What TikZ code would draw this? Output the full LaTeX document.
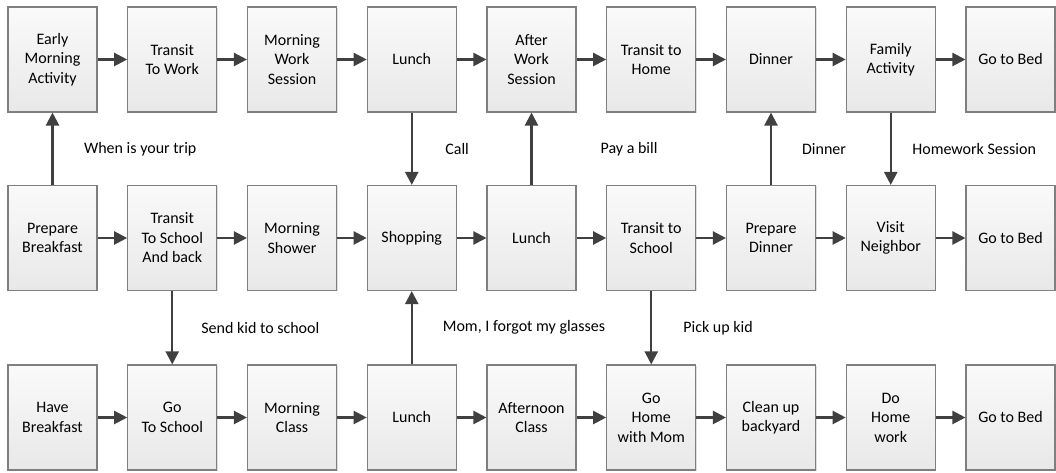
\documentclass[tikz,border=0pt]{standalone}
\usepackage{fontspec}
\setmainfont{Carlito}
\usetikzlibrary{arrows.meta,shadows}
\definecolor{arrowGray}{HTML}{404040}
\definecolor{boxBorder}{HTML}{7F7F7F}

\begin{document}
\begin{tikzpicture}
[x=1pt,y=1pt,
  darkArrow/.style={->,>={Triangle[length=13pt,width=13pt]},line width=2.2pt,color=arrowGray},%
  boxDecorate/.style={shape=rectangle,minimum width=89pt,minimum height=105pt,inner sep=2pt,
    draw=boxBorder,line width=1.1pt,top color=white!98!black,bottom color=white!91!black,
    drop shadow={shadow xshift=1pt,shadow yshift=-1pt,opacity=0.25},
    text=black,align=center,font=\fontsize{16}{19.5}\selectfont},%
  labelText/.style={midway,anchor=west,inner sep=0pt,text=black,font=\fontsize{16}{19.5}\selectfont}]
\useasboundingbox (0,0) rectangle (1056,473);
%% top row
\foreach \txt [count=\col] in {{Early\\Morning\\Activity}, {Transit\\To Work}, {Morning\\Work\\Session},
  Lunch, {After\\Work\\Session}, {Transit to\\Home}, Dinner, {Family\\Activity}, Go to Bed}
{
  \node (t\col) at ({52.5+119.75*(\col-1)},413.5) [boxDecorate] {\txt};
}
%% middle row
\foreach \txt [count=\col] in {{Prepare\\Breakfast}, {Transit\\To School\\And back}, {Morning\\Shower},
  Shopping, Lunch, {Transit to\\School}, {Prepare\\Dinner}, {Visit\\Neighbor}, Go to Bed}
{
  \node (m\col) at ({52.5+119.75*(\col-1)},235) [boxDecorate] {\txt};
}
%% bottom row
\foreach \txt [count=\col] in {{Have\\Breakfast}, {Go\\To School}, {Morning\\Class}, Lunch,
  {Afternoon\\Class}, {Go\\Home\\with Mom}, {Clean up\\backyard}, {Do\\Home\\work}, Go to Bed}
{
  \node (b\col) at ({52.5+119.75*(\col-1)},55.5) [boxDecorate] {\txt};
}
%% arrows along the rows
\path
\foreach \row in {t,m,b}
{
  \foreach \startnode/\endnode in {1/2, 2/3, 3/4, 4/5, 5/6, 6/7, 7/8, 8/9}
  {
    (\row\startnode) edge[darkArrow] (\row\endnode)
  }
};
%% arrows between the rows
\path
\foreach \startnode/\endnode/\gap/\txt [count=\i] in {
  m1/t1/30.5pt/When is your trip, t4/m4/32.5pt/Call, m5/t5/68pt/Pay a bill,
  m7/t7/30pt/Dinner, t8/m8/20.5pt/Homework Session, m2/b2/28pt/Send kid to school,
  b4/m4/30pt/{Mom, I forgot my glasses}, m6/b6/31pt/Pick up kid}
{
  (\startnode) edge[darkArrow] node (lab\i) [labelText,xshift=\gap] {\txt} (\endnode)
};
\end{tikzpicture}
\end{document}
